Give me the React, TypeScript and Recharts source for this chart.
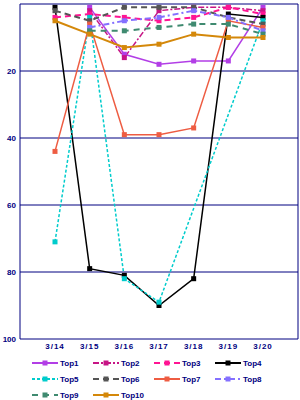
import React from 'react';
import { LineChart, Line, XAxis, YAxis, CartesianGrid, Legend } from 'recharts';

const dates = ['3/14', '3/15', '3/16', '3/17', '3/18', '3/19', '3/20'];
const top1 = [null, 1, 15, 18, 17, 17, 1];
const top2 = [null, 2, 16, 2, 1, 1, 2];
const top3 = [4, 3, 4, 5, 4, 1, 3];
const top4 = [1, 79, 81, 90, 82, 3, 4];
const top5 = [71, 4, 82, 89, null, null, 5];
const top6 = [2, 5, 1, 1, 1, 4, 6];
const top7 = [44, 6, 39, 39, 37, 5, 7];
const top8 = [null, 7, 5, 4, 2, 4, 8];
const top9 = [null, 8, 8, 7, 6, 6, 9];
const top10 = [5, 9, 13, 12, 9, 10, 10];
const yTicks = [0, 20, 40, 60, 80, 100];

const seriesValues: Record<string, (number | null)[]> = { top1, top2, top3, top4, top5, top6, top7, top8, top9, top10 };

const series = [
  { key: 'top1', name: 'Top1', color: '#b23ee6', dash: undefined as string | undefined, width: 1.5 },
  { key: 'top2', name: 'Top2', color: '#c71585', dash: '6 2 2 2', width: 1.5 },
  { key: 'top3', name: 'Top3', color: '#ff1493', dash: '6 4', width: 2 },
  { key: 'top4', name: 'Top4', color: '#000000', dash: undefined, width: 1.5 },
  { key: 'top5', name: 'Top5', color: '#00cccc', dash: '3 2', width: 1.5 },
  { key: 'top6', name: 'Top6', color: '#555555', dash: '6 4', width: 2 },
  { key: 'top7', name: 'Top7', color: '#ee5c42', dash: undefined, width: 1.5 },
  { key: 'top8', name: 'Top8', color: '#8470ff', dash: '6 3 2 3', width: 2 },
  { key: 'top9', name: 'Top9', color: '#3f8a70', dash: '6 5', width: 2 },
  { key: 'top10', name: 'Top10', color: '#d4880a', dash: undefined, width: 2 },
];

const data = dates.map((d, i) => {
  const row: Record<string, string | number | null> = { date: d };
  series.forEach((s) => {
    row[s.key] = seriesValues[s.key][i];
  });
  return row;
});

const NAVY = '#000080';
const FONT = 'Liberation Sans, Arial, sans-serif';
const yTickStyle = { fill: NAVY, fontSize: 8, fontWeight: 'bold' as const, fontFamily: FONT };
const xTickStyle = { fill: NAVY, fontSize: 8, fontWeight: 'bold' as const, fontFamily: FONT, letterSpacing: 1 };

const LegendContent = () => (
  <div style={{ display: 'grid', gridTemplateColumns: 'repeat(4, 61px)', paddingLeft: 32, width: 300, boxSizing: 'border-box' }}>
    {series.map((s) => (
      <div key={s.key} style={{ display: 'flex', alignItems: 'center', height: 16 }}>
        <svg width={26} height={8} style={{ display: 'block' }}>
          <line x1={0} y1={4} x2={26} y2={4} stroke={s.color} strokeWidth={2} strokeDasharray={s.dash} />
          <rect x={10.5} y={1.5} width={5} height={5} fill={s.color} />
        </svg>
        <span style={{ marginLeft: 2, color: NAVY, fontSize: 8, fontWeight: 'bold', fontFamily: FONT }}>{s.name}</span>
      </div>
    ))}
  </div>
);

export default function App() {
  return (
    <div style={{ position: 'absolute', left: 0, top: 0, width: 300, height: 400, background: '#fff' }}>
      <LineChart width={300} height={400} data={data} margin={{ top: 4, right: 2, left: 0, bottom: 0 }}>
        <CartesianGrid
          stroke={NAVY}
          strokeWidth={1}
          horizontal
          vertical
          verticalCoordinatesGenerator={({ offset }: any) => [offset.left, offset.left + offset.width]}
        />
        <XAxis
          dataKey="date"
          padding={{ left: 35, right: 35 }}
          tickLine={false}
          axisLine={false}
          tickSize={2}
          tickMargin={2}
          height={16}
          interval={0}
          tick={xTickStyle}
        />
        <YAxis
          reversed
          domain={[0, 100]}
          ticks={yTicks}
          tickFormatter={(v: number) => (v === 0 ? '' : String(v))}
          width={20}
          tickLine={false}
          axisLine={false}
          tickSize={2}
          tickMargin={2}
          interval={0}
          tick={yTickStyle}
        />
        <Legend verticalAlign="bottom" height={45} content={() => <LegendContent />} />
        {series.map((s) => (
          <Line
            key={s.key}
            dataKey={s.key}
            name={s.name}
            type="linear"
            stroke={s.color}
            strokeWidth={s.width}
            strokeDasharray={s.dash}
            connectNulls
            isAnimationActive={false}
            activeDot={false}
            dot={(p: any) =>
              p.cy == null || p.value == null ? (
                <g key={`${s.key}-${p.index}`} />
              ) : (
                <rect key={`${s.key}-${p.index}`} x={p.cx - 2.5} y={p.cy - 2.5} width={5} height={5} fill={s.color} />
              )
            }
          />
        ))}
      </LineChart>
    </div>
  );
}
